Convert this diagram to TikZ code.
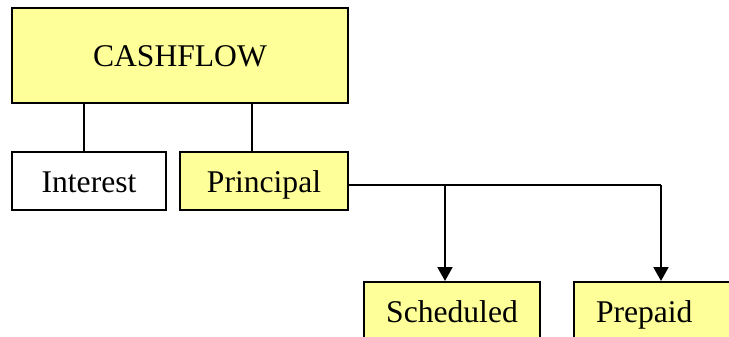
\documentclass[tikz,border=0pt]{standalone}
\usepackage{fontspec}
\setmainfont{Liberation Serif}
\usetikzlibrary{arrows.meta}
\definecolor{boxyellow}{HTML}{FFFF99}
\begin{document}
\begin{tikzpicture}[x=1pt,y=-1pt,
  box/.style={draw=black,line width=2pt,rectangle,inner sep=0pt,
    font=\fontsize{31.6}{36}\selectfont,text height=22pt,text depth=0pt},
  yel/.style={box,fill=boxyellow},
  conn/.style={draw=black,line width=2pt},
  arr/.style={conn,-{Triangle[width=15pt,length=14pt]}}]
\useasboundingbox (0,0) rectangle (729,337);
\clip (0,0) rectangle (729,337);
\node[yel,minimum width=336pt,minimum height=95pt] (cash) at (180,55.5) {CASHFLOW};
\node[box,fill=white,minimum width=154pt,minimum height=58pt] (interest) at (89,181) {Interest};
\node[yel,minimum width=168pt,minimum height=58pt] (principal) at (264,181) {Principal};
\node[yel,minimum width=176pt,minimum height=58pt] (sched) at (452,311) {Scheduled};
\node[yel,anchor=west,text width=150pt,align=left,inner xsep=22pt,minimum height=58pt] (prepaid) at (573,311) {Prepaid};
\coordinate (ja) at (445,185);
\coordinate (jb) at (661,185);
\draw[conn] ([xshift=-5pt]interest.north) -- ([xshift=-5pt]interest.north |- cash.south);
\draw[conn] ([xshift=-12pt]principal.north) -- ([xshift=-12pt]principal.north |- cash.south);
\draw[conn] ([yshift=-4pt]principal.east) -- (jb);
\draw[arr] (ja) -- (ja |- sched.north);
\draw[arr] (jb) -- (jb |- prepaid.north);
\end{tikzpicture}
\end{document}
